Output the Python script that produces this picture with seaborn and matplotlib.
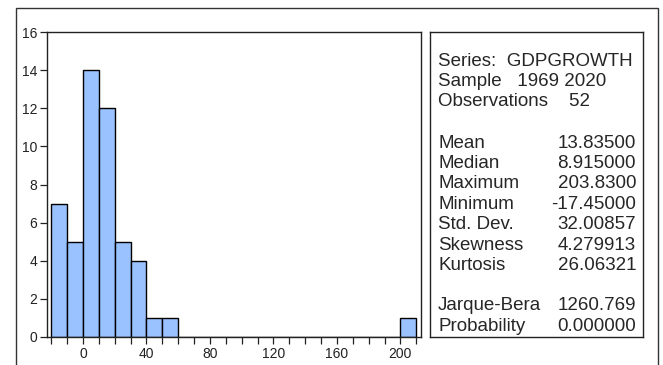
import numpy as np
import pandas as pd
import matplotlib.pyplot as plt
import matplotlib.patches as mpatches
import seaborn as sns

# histogram bins (left edges, width 10) and counts
bin_left = [-20, -10, 0, 10, 20, 30, 40, 50, 60, 70, 80, 90, 100, 110, 120,
            130, 140, 150, 160, 170, 180, 190, 200]
counts = [7, 5, 14, 12, 5, 4, 1, 1, 0, 0, 0, 0, 0, 0, 0,
          0, 0, 0, 0, 0, 0, 0, 1]
bin_width = 10

stat_names = ["Mean", "Median", "Maximum", "Minimum", "Std. Dev.", "Skewness", "Kurtosis"]
stat_values = ["13.83500", "8.915000", "203.8300", "-17.45000", "32.00857", "4.279913", "26.06321"]
test_names = ["Jarque-Bera", "Probability"]
test_values = ["1260.769", "0.000000"]
header_lines = ["Series:  GDPGROWTH", "Sample   1969 2020", "Observations    52"]

sns.set_style("white")
plt.rcParams['font.family'] = ['Liberation Sans', 'DejaVu Sans']

W, H = 663, 365
fig = plt.figure(figsize=(W / 100, H / 100), dpi=100)

# outer frame (open at the bottom)
fig.add_artist(mpatches.Rectangle((16 / W, -0.05), (658 - 16) / W, 1.05 - 8 / H,
                                  transform=fig.transFigure, fill=False,
                                  edgecolor='#333333', lw=1.0))

ax = fig.add_axes([47 / W, 1 - 337 / H, (421 - 47) / W, (337 - 32) / H])
df = pd.DataFrame({"x": np.array(bin_left) + bin_width / 2, "n": counts})
edges = list(bin_left) + [bin_left[-1] + bin_width]
sns.histplot(data=df, x="x", weights="n", bins=edges, ax=ax,
             color='#99C2FF', edgecolor='black', linewidth=1.0, alpha=1.0)
ax.set_xlim(-22.7, 213)
ax.set_ylim(0, 16)
ax.set_xlabel("")
ax.set_ylabel("")
ax.set_yticks(range(0, 17, 2))
ax.set_xticks(range(0, 201, 40))
ax.set_xticks(range(-20, 211, 10), minor=True)
ax.tick_params(axis='y', which='both', left=True, length=5, width=0.9, pad=2,
               labelsize=10, colors='#222222')
ax.tick_params(axis='x', which='both', bottom=True, length=5, width=0.9, pad=2,
               labelsize=10, colors='#222222')
for s in ax.spines.values():
    s.set_color('#222222')
    s.set_linewidth(1.0)

# statistics box
bx = fig.add_axes([430 / W, 1 - 337 / H, (643 - 430) / W, (337 - 32) / H])
bx.set_xticks([])
bx.set_yticks([])
bx.set_xlim(430, 643)
bx.set_ylim(337, 32)
for s in bx.spines.values():
    s.set_color('#222222')
    s.set_linewidth(1.0)

fs = 13.5
for i, line in enumerate(header_lines):
    bx.text(438, 62 + i * 19.6, line, fontsize=fs, va='center', ha='left')
for i, (n, v) in enumerate(zip(stat_names, stat_values)):
    y = 143 + i * 20.4
    bx.text(438, y, n, fontsize=fs, va='center', ha='left')
    bx.text(636, y, v, fontsize=fs, va='center', ha='right')
for i, (n, v) in enumerate(zip(test_names, test_values)):
    y = 306 + i * 20.4
    bx.text(438, y, n, fontsize=fs, va='center', ha='left')
    bx.text(636, y, v, fontsize=fs, va='center', ha='right')

fig.savefig("out.png", dpi=100)
